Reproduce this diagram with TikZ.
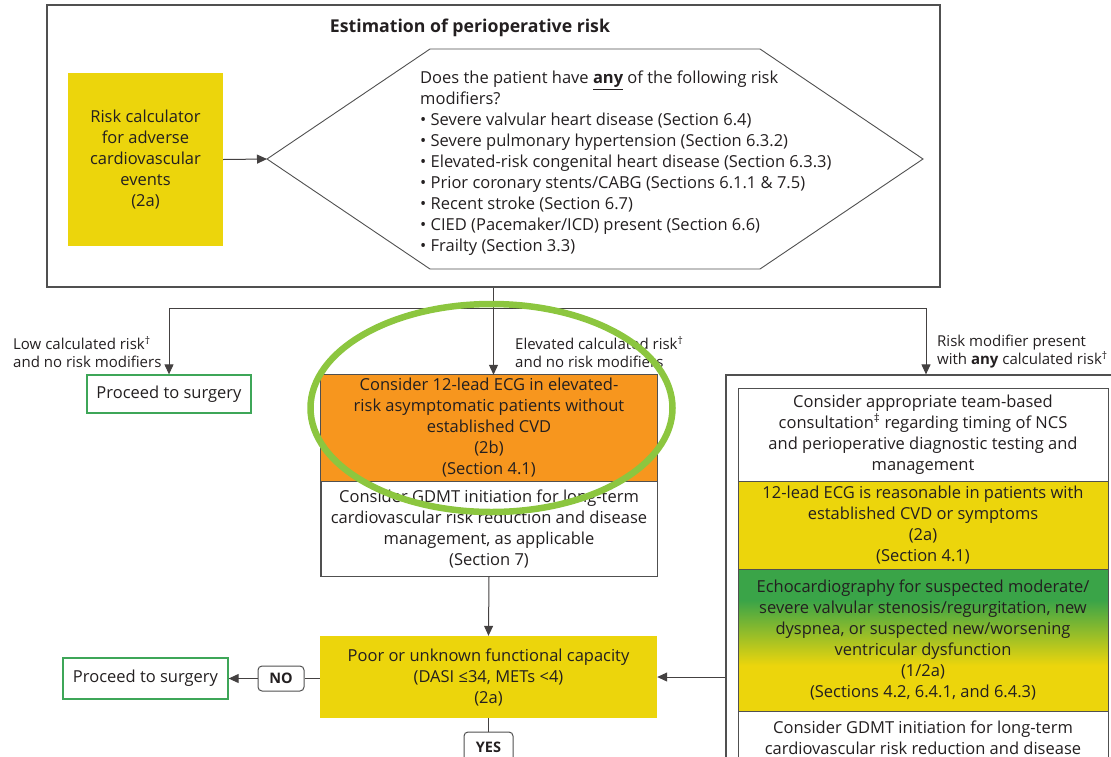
\documentclass[tikz,border=0pt]{standalone}
\usepackage{fontspec}
\setmainfont{Open Sans}
\usetikzlibrary{arrows.meta,shapes.geometric,calc}

\definecolor{ink}{HTML}{231F20}
\definecolor{frame}{HTML}{505050}
\definecolor{ylw}{RGB}{236,213,12}
\definecolor{org}{RGB}{247,150,30}
\definecolor{grn}{RGB}{58,164,72}
\definecolor{okgreen}{RGB}{62,166,88}
\definecolor{ring}{RGB}{140,198,63}

% green-to-yellow fill of the echocardiography step (TikZ maps 25bp..75bp onto the box)
\pgfdeclareverticalshading{echoshade}{100bp}{color(0bp)=(ylw); color(41bp)=(ylw); color(64bp)=(grn); color(100bp)=(grn)}

\begin{document}
\begin{tikzpicture}[x=1pt,y=-1pt,
  font=\fontsize{16.5}{21}\selectfont, text=ink,
  stepbox/.style={draw=frame, line width=0.8pt, inner sep=0pt, align=center},
  plainbox/.style={inner sep=0pt, align=center},
  exitbox/.style={draw=okgreen, line width=1.3pt, inner sep=0pt, align=center},
  answer/.style={draw=frame, line width=1pt, rounded corners=4pt, inner sep=0pt,
    font=\fontsize{14.5}{16}\selectfont\bfseries},
  branchlabel/.style={anchor=west, align=left, inner sep=0pt, font=\fontsize{15}{18}\selectfont},
  conn/.style={draw=ink!85, line width=1pt},
  arr/.style={conn, -{Triangle[length=10pt,width=9pt]}},
]
\useasboundingbox (0,0) rectangle (1111,756);

% ---- estimation of perioperative risk ----
\node[draw=frame, line width=1.4pt, minimum width=893pt, minimum height=282pt] (est) at (493.5,146) {};
\node[font=\fontsize{17.7}{20}\selectfont\bfseries] (title) at (470,28) {Estimation of perioperative risk};
\node[plainbox, fill=ylw, minimum width=155pt, minimum height=173pt] (calc) at (145.5,159.5)
  {Risk calculator\\for adverse\\cardiovascular\\events\\(2a)};

\coordinate (hW)  at (267,159);
\coordinate (hNW) at (430,49);
\coordinate (hNE) at (760,49);
\coordinate (hE)  at (923,159);
\coordinate (hSE) at (760,269);
\coordinate (hSW) at (430,269);
\draw[draw=frame, line width=0.9pt] (hW) -- (hNW) -- (hNE) -- (hE) -- (hSE) -- (hSW) -- cycle;
\node[anchor=west, align=left, inner sep=0pt] (mods) at (420,163)
  {Does the patient have \underline{\textbf{any}} of the following risk\\
   modifiers?\\
   \textbullet\ Severe valvular heart disease (Section 6.4)\\
   \textbullet\ Severe pulmonary hypertension (Section 6.3.2)\\
   \textbullet\ Elevated-risk congenital heart disease (Section 6.3.3)\\
   \textbullet\ Prior coronary stents/CABG (Sections 6.1.1 \& 7.5)\\
   \textbullet\ Recent stroke (Section 6.7)\\
   \textbullet\ CIED (Pacemaker/ICD) present (Section 6.6)\\
   \textbullet\ Frailty (Section 3.3)};
\draw[arr] (calc.east) -- (hW);

% ---- three branches ----
\node[exitbox, minimum width=164pt, minimum height=38pt] (go1) at (169,394) {Proceed to surgery};

\node[plainbox, fill=org, minimum width=336pt, minimum height=106pt] (ecg) at (489,428)
  {Consider 12-lead ECG in elevated-\\risk asymptomatic patients without\\established CVD\\(2b)\\(Section 4.1)};
\node[stepbox, fill=white, minimum width=336pt, minimum height=95pt] (gdmt) at (489,528.5)
  {Consider GDMT initiation for long-term\\cardiovascular risk reduction and disease\\management, as applicable\\(Section 7)};
\draw[draw=frame, line width=0.8pt] (ecg.north west) rectangle (gdmt.south east);

\node[draw=frame, line width=1.2pt, minimum width=399pt, minimum height=395pt] (modbox) at (925.5,572.5) {};
\node[stepbox, fill=white, minimum width=370pt, minimum height=93pt] (team) at (923,434.5)
  {Consider appropriate team-based\\consultation\textsuperscript{‡} regarding timing of NCS\\and perioperative diagnostic testing and\\management};
\node[stepbox, fill=ylw, minimum width=370pt, minimum height=88pt] (ecg2) at (923,525)
  {12-lead ECG is reasonable in patients with\\established CVD or symptoms\\(2a)\\(Section 4.1)};
\node[stepbox, shading=echoshade, minimum width=370pt, minimum height=142pt] (echo) at (923,640)
  {Echocardiography for suspected moderate/\\severe valvular stenosis/regurgitation, new\\dyspnea, or suspected new/worsening\\ventricular dysfunction\\(1/2a)\\(Sections 4.2, 6.4.1, and 6.4.3)};
\node[stepbox, fill=white, minimum width=370pt, minimum height=54pt] (gdmt2) at (923,738)
  {Consider GDMT initiation for long-term\\cardiovascular risk reduction and disease};

\coordinate (split) at (493.5,308);
\coordinate (splitR) at (926,308);
\draw[conn] (est.south) -- (split);
\draw[arr] (split) -| (go1.north);
\draw[arr] (split) -- (split |- ecg.north);
\draw[conn] (split) -- (splitR);
\draw[arr] (splitR) -- (splitR |- modbox.north);

\node[branchlabel] (lowlab) at (13,352) {Low calculated risk\textsuperscript{†}\\and no risk modifiers};
\node[branchlabel] (elevlab) at (515,352) {Elevated calculated risk\textsuperscript{†}\\and no risk modifiers};
\node[branchlabel] (modlab) at (937,352) {Risk modifier present\\with \textbf{any} calculated risk\textsuperscript{†}};

% ---- functional capacity ----
\node[plainbox, fill=ylw, minimum width=337pt, minimum height=82pt] (func) at (488.5,677)
  {Poor or unknown functional capacity\\(DASI ≤34, METs <4)\\(2a)};
\draw[arr] (gdmt.south) -- (func.north);
\draw[arr] (modbox.west |- func.east) -- (func.east);

\node[answer, minimum width=46pt, minimum height=25pt] (no) at (281,678.5) {NO};
\node[exitbox, minimum width=165pt, minimum height=41pt] (go2) at (145.5,678.5) {Proceed to surgery};
\draw[conn] (func.west |- no.east) -- (no.east);
\draw[arr] (no.west) -- (go2.east);

\node[answer, minimum width=49pt, minimum height=30pt] (yes) at (488.5,747) {YES};
\draw[conn] (func.south) -- (yes.north);

% ---- highlight ring ----
\node[ellipse, draw=ring, line width=6.5pt, minimum width=362pt, minimum height=208pt, inner sep=0pt] (ring) at (491.5,408) {};
\end{tikzpicture}
\end{document}
